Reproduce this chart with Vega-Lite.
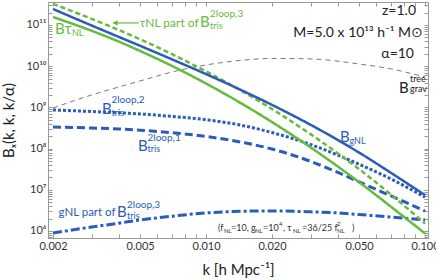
{
"$schema": "https://vega.github.io/schema/vega-lite/v6.json",
"width": 380, "height": 236,
"autosize": {"type": "none"},
"padding": {"left": 48, "top": 2, "right": 8, "bottom": 42},
"background": "white",
"config": {
  "view": {"stroke": "#999", "strokeWidth": 1},
  "font": "Lato",
  "axis": {"grid": false, "domainColor": "#999", "tickColor": "#999", "labelColor": "#333", "labelFont": "Lato", "titleFont": "Lato", "titleFontWeight": "normal", "titleColor": "#222", "labelOverlap": false, "labelFlush": false}
},
"resolve": {"axis": {"x": "independent", "y": "independent"}},
"layer": [
  {
    "data": {"values": [
      {"s":"grav","k":0.002,"B":9.66e8},{"s":"grav","k":0.003,"B":2.0e9},{"s":"grav","k":0.004,"B":3.13e9},{"s":"grav","k":0.005,"B":4.38e9},{"s":"grav","k":0.007,"B":7.23e9},{"s":"grav","k":0.01,"B":1.07e10},{"s":"grav","k":0.015,"B":1.41e10},{"s":"grav","k":0.02,"B":1.54e10},{"s":"grav","k":0.03,"B":1.50e10},{"s":"grav","k":0.05,"B":1.13e10},{"s":"grav","k":0.07,"B":8.55e9},{"s":"grav","k":0.1,"B":5.47e9},
      {"s":"tris1","k":0.002,"B":3.34e8},{"s":"tris1","k":0.003,"B":3.16e8},{"s":"tris1","k":0.004,"B":2.99e8},{"s":"tris1","k":0.005,"B":2.79e8},{"s":"tris1","k":0.007,"B":2.43e8},{"s":"tris1","k":0.01,"B":1.97e8},{"s":"tris1","k":0.015,"B":1.38e8},{"s":"tris1","k":0.02,"B":9.77e7},{"s":"tris1","k":0.03,"B":4.90e7},{"s":"tris1","k":0.04,"B":2.63e7},{"s":"tris1","k":0.05,"B":1.55e7},{"s":"tris1","k":0.07,"B":7.08e6},{"s":"tris1","k":0.1,"B":3.05e6},
      {"s":"tris2","k":0.002,"B":8.65e8},{"s":"tris2","k":0.003,"B":7.94e8},{"s":"tris2","k":0.004,"B":7.41e8},{"s":"tris2","k":0.005,"B":6.92e8},{"s":"tris2","k":0.007,"B":6.03e8},{"s":"tris2","k":0.01,"B":5.01e8},{"s":"tris2","k":0.015,"B":3.55e8},{"s":"tris2","k":0.02,"B":2.45e8},{"s":"tris2","k":0.03,"B":1.26e8},{"s":"tris2","k":0.04,"B":6.92e7},{"s":"tris2","k":0.05,"B":4.17e7},{"s":"tris2","k":0.07,"B":1.82e7},{"s":"tris2","k":0.1,"B":6.61e6},
      {"s":"gNL3","k":0.002,"B":8.93e5},{"s":"gNL3","k":0.003,"B":1.25e6},{"s":"gNL3","k":0.004,"B":1.55e6},{"s":"gNL3","k":0.005,"B":1.85e6},{"s":"gNL3","k":0.007,"B":2.29e6},{"s":"gNL3","k":0.01,"B":2.74e6},{"s":"gNL3","k":0.015,"B":3.02e6},{"s":"gNL3","k":0.02,"B":3.07e6},{"s":"gNL3","k":0.03,"B":2.92e6},{"s":"gNL3","k":0.04,"B":2.75e6},{"s":"gNL3","k":0.05,"B":2.51e6},{"s":"gNL3","k":0.07,"B":2.19e6},{"s":"gNL3","k":0.1,"B":1.85e6},
      {"s":"tauNL","k":0.002,"B":1.56e11},{"s":"tauNL","k":0.003,"B":7.24e10},{"s":"tauNL","k":0.004,"B":3.93e10},{"s":"tauNL","k":0.005,"B":2.34e10},{"s":"tauNL","k":0.007,"B":1.01e10},{"s":"tauNL","k":0.01,"B":3.79e9},{"s":"tauNL","k":0.015,"B":1.12e9},{"s":"tauNL","k":0.02,"B":4.40e8},{"s":"tauNL","k":0.03,"B":1.07e8},{"s":"tauNL","k":0.04,"B":3.66e7},{"s":"tauNL","k":0.05,"B":1.53e7},{"s":"tauNL","k":0.07,"B":3.85e6},{"s":"tauNL","k":0.1,"B":8.71e5},
      {"s":"tauNL3","k":0.002,"B":3.24e11},{"s":"tauNL3","k":0.003,"B":1.41e11},{"s":"tauNL3","k":0.004,"B":7.52e10},{"s":"tauNL3","k":0.005,"B":4.48e10},{"s":"tauNL3","k":0.007,"B":1.95e10},{"s":"tauNL3","k":0.01,"B":7.46e9},{"s":"tauNL3","k":0.015,"B":2.27e9},{"s":"tauNL3","k":0.02,"B":9.10e8},{"s":"tauNL3","k":0.03,"B":2.24e8},{"s":"tauNL3","k":0.04,"B":7.64e7},{"s":"tauNL3","k":0.05,"B":3.16e7},{"s":"tauNL3","k":0.07,"B":7.60e6},{"s":"tauNL3","k":0.1,"B":1.51e6},
      {"s":"gNL","k":0.002,"B":2.44e11},{"s":"gNL","k":0.003,"B":9.73e10},{"s":"gNL","k":0.004,"B":5.12e10},{"s":"gNL","k":0.005,"B":3.12e10},{"s":"gNL","k":0.007,"B":1.46e10},{"s":"gNL","k":0.01,"B":6.41e9},{"s":"gNL","k":0.015,"B":2.40e9},{"s":"gNL","k":0.02,"B":1.15e9},{"s":"gNL","k":0.03,"B":3.78e8},{"s":"gNL","k":0.04,"B":1.61e8},{"s":"gNL","k":0.05,"B":7.98e7},{"s":"gNL","k":0.07,"B":2.56e7},{"s":"gNL","k":0.1,"B":7.41e6}
    ]},
    "mark": {"type": "line", "interpolate": "monotone", "clip": true},
    "encoding": {
      "x": {"field": "k", "type": "quantitative",
        "scale": {"type": "log", "domain": [0.0018976, 0.10312], "nice": false},
        "axis": {"orient": "bottom", "values": [0.002,0.003,0.004,0.005,0.006,0.007,0.008,0.009,0.01,0.02,0.03,0.04,0.05,0.06,0.07,0.08,0.09,0.1],
          "labelExpr": "indexof([0.002,0.005,0.01,0.02,0.05,0.1], datum.value) >= 0 ? format(datum.value, '.3f') : ''",
          "tickSize": -4, "labelPadding": 6, "labelFontSize": 11, "title": "k  [h Mpc⁻¹]", "titleFontSize": 15, "titlePadding": 11}},
      "y": {"field": "B", "type": "quantitative",
        "scale": {"type": "log", "domain": [6.76e5, 3.61e11], "nice": false},
        "axis": {"orient": "left", "values": [7e5,8e5,9e5,1e6,2e6,3e6,4e6,5e6,6e6,7e6,8e6,9e6,1e7,2e7,3e7,4e7,5e7,6e7,7e7,8e7,9e7,1e8,2e8,3e8,4e8,5e8,6e8,7e8,8e8,9e8,1e9,2e9,3e9,4e9,5e9,6e9,7e9,8e9,9e9,1e10,2e10,3e10,4e10,5e10,6e10,7e10,8e10,9e10,1e11,2e11,3e11],
          "labelExpr": "datum.value == 1e6 ? '10⁶' : datum.value == 1e7 ? '10⁷' : datum.value == 1e8 ? '10⁸' : datum.value == 1e9 ? '10⁹' : datum.value == 1e10 ? '10¹⁰' : datum.value == 1e11 ? '10¹¹' : ''",
          "tickSize": -4, "labelPadding": 6, "labelFontSize": 11, "title": "Bₓ(k, k, k/α)", "titleFontSize": 15, "titlePadding": 9}},
      "color": {"field": "s", "type": "nominal", "legend": null,
        "scale": {"domain": ["grav","tris1","tris2","gNL3","tauNL","tauNL3","gNL"], "range": ["#555555","#2b5cb8","#2b5cb8","#2b5cb8","#66bb3d","#66bb3d","#2b5cb8"]}},
      "strokeDash": {"field": "s", "type": "nominal", "legend": null,
        "scale": {"domain": ["grav","tris1","tris2","gNL3","tauNL","tauNL3","gNL"], "range": [[5,4],[8,4],[3,2],[9,3,3,3],[1,0],[5,3],[1,0]]}},
      "strokeWidth": {"field": "s", "type": "nominal", "legend": null,
        "scale": {"type": "ordinal", "domain": ["grav","tris1","tris2","gNL3","tauNL","tauNL3","gNL"], "range": [0.8,3,3,3,2.5,2.5,2.5]}}
    }
  },
  {
    "data": {"values": [{"k1": 0.003758, "k2": 0.00492, "B": 1.12e11}]},
    "mark": {"type": "rule", "color": "#66bb3d", "strokeWidth": 1.2},
    "encoding": {
      "x": {"field": "k1", "type": "quantitative",
        "axis": {"orient": "top", "values": [0.002,0.003,0.004,0.005,0.006,0.007,0.008,0.009,0.01,0.02,0.03,0.04,0.05,0.06,0.07,0.08,0.09,0.1], "labels": false, "title": null, "tickSize": -4, "domain": false}},
      "x2": {"field": "k2"},
      "y": {"field": "B", "type": "quantitative",
        "axis": {"orient": "right", "values": [7e5,8e5,9e5,1e6,2e6,3e6,4e6,5e6,6e6,7e6,8e6,9e6,1e7,2e7,3e7,4e7,5e7,6e7,7e7,8e7,9e7,1e8,2e8,3e8,4e8,5e8,6e8,7e8,8e8,9e8,1e9,2e9,3e9,4e9,5e9,6e9,7e9,8e9,9e9,1e10,2e10,3e10,4e10,5e10,6e10,7e10,8e10,9e10,1e11,2e11,3e11], "labels": false, "title": null, "tickSize": -4, "domain": false}}
    }
  },
  {
    "data": {"values": [{"k": 0.00385, "B": 1.12e11}]},
    "mark": {"type": "point", "shape": "triangle-left", "filled": true, "color": "#66bb3d", "size": 30, "opacity": 1},
    "encoding": {"x": {"field": "k", "type": "quantitative", "axis": null}, "y": {"field": "B", "type": "quantitative", "axis": null}}
  },
  {
    "data": {"values": [{"t": "z=1.0", "k": 0.0909, "B": 1.75e11}, {"t": "M=5.0 x 10¹³ h⁻¹ M⊙", "k": 0.0979, "B": 5.12e10}, {"t": "α=10", "k": 0.089, "B": 1.58e10}]},
    "mark": {"type": "text", "align": "right", "baseline": "alphabetic", "font": "Lato", "fontSize": 14, "color": "#222"},
    "encoding": {"x": {"field": "k", "type": "quantitative", "axis": null}, "y": {"field": "B", "type": "quantitative", "axis": null}, "text": {"field": "t"}}
  },
  {
    "data": {"values": [{"t": "B", "k": 0.076, "B": 2.24e9}]},
    "mark": {"type": "text", "align": "left", "baseline": "alphabetic", "font": "Lato", "fontSize": 15, "color": "#222"},
    "encoding": {"x": {"field": "k", "type": "quantitative", "axis": null}, "y": {"field": "B", "type": "quantitative", "axis": null}, "text": {"field": "t"}}
  },
  {
    "data": {"values": [{"t": "tree", "k": 0.08535, "B": 4.14e9}, {"t": "grav", "k": 0.08535, "B": 2.37e9}]},
    "mark": {"type": "text", "align": "left", "baseline": "alphabetic", "font": "Lato", "fontSize": 9, "color": "#222"},
    "encoding": {"x": {"field": "k", "type": "quantitative", "axis": null}, "y": {"field": "B", "type": "quantitative", "axis": null}, "text": {"field": "t"}}
  },
  {
    "data": {"values": [{"t": "B", "k": 0.04088, "B": 1.45e8}, {"t": "B", "k": 0.003349, "B": 6.92e8}, {"t": "B", "k": 0.004888, "B": 8.75e7}, {"t": "B", "k": 0.00392, "B": 2.19e6}]},
    "mark": {"type": "text", "align": "left", "baseline": "alphabetic", "font": "Lato", "fontSize": 15, "color": "#2b5cb8"},
    "encoding": {"x": {"field": "k", "type": "quantitative", "axis": null}, "y": {"field": "B", "type": "quantitative", "axis": null}, "text": {"field": "t"}}
  },
  {
    "data": {"values": [{"t": "2loop,2", "k": 0.003698, "B": 1.28e9}, {"t": "2loop,1", "k": 0.005402, "B": 1.53e8}, {"t": "2loop,3", "k": 0.004354, "B": 3.61e6}]},
    "mark": {"type": "text", "align": "left", "baseline": "alphabetic", "font": "Lato", "fontSize": 10, "color": "#2b5cb8"},
    "encoding": {"x": {"field": "k", "type": "quantitative", "axis": null}, "y": {"field": "B", "type": "quantitative", "axis": null}, "text": {"field": "t"}}
  },
  {
    "data": {"values": [{"t": "tris", "k": 0.003698, "B": 6.18e8}, {"t": "tris", "k": 0.005402, "B": 8.26e7}, {"t": "tris", "k": 0.004354, "B": 1.95e6}, {"t": "gNL", "k": 0.04518, "B": 1.29e8}]},
    "mark": {"type": "text", "align": "left", "baseline": "alphabetic", "font": "Lato", "fontSize": 9, "color": "#2b5cb8"},
    "encoding": {"x": {"field": "k", "type": "quantitative", "axis": null}, "y": {"field": "B", "type": "quantitative", "axis": null}, "text": {"field": "t"}}
  },
  {
    "data": {"values": [{"t": "gNL part of", "k": 0.00386, "B": 2.31e6}]},
    "mark": {"type": "text", "align": "right", "baseline": "alphabetic", "font": "Lato", "fontSize": 11.5, "color": "#2b5cb8"},
    "encoding": {"x": {"field": "k", "type": "quantitative", "axis": null}, "y": {"field": "B", "type": "quantitative", "axis": null}, "text": {"field": "t"}}
  },
  {
    "data": {"values": [{"t": "Bτ", "k": 0.002042, "B": 6.05e10}, {"t": "B", "k": 0.009383, "B": 8.94e10}]},
    "mark": {"type": "text", "align": "left", "baseline": "alphabetic", "font": "Lato", "fontSize": 15, "color": "#66bb3d"},
    "encoding": {"x": {"field": "k", "type": "quantitative", "axis": null}, "y": {"field": "B", "type": "quantitative", "axis": null}, "text": {"field": "t"}}
  },
  {
    "data": {"values": [{"t": "τNL part of", "k": 0.00925, "B": 8.94e10}]},
    "mark": {"type": "text", "align": "right", "baseline": "alphabetic", "font": "Lato", "fontSize": 12, "color": "#66bb3d"},
    "encoding": {"x": {"field": "k", "type": "quantitative", "axis": null}, "y": {"field": "B", "type": "quantitative", "axis": null}, "text": {"field": "t"}}
  },
  {
    "data": {"values": [{"t": "2loop,3", "k": 0.010422, "B": 1.56e11}]},
    "mark": {"type": "text", "align": "left", "baseline": "alphabetic", "font": "Lato", "fontSize": 10, "color": "#66bb3d"},
    "encoding": {"x": {"field": "k", "type": "quantitative", "axis": null}, "y": {"field": "B", "type": "quantitative", "axis": null}, "text": {"field": "t"}}
  },
  {
    "data": {"values": [{"t": "NL", "k": 0.002442, "B": 5.41e10}, {"t": "tris", "k": 0.010422, "B": 8.0e10}]},
    "mark": {"type": "text", "align": "left", "baseline": "alphabetic", "font": "Lato", "fontSize": 9, "color": "#66bb3d"},
    "encoding": {"x": {"field": "k", "type": "quantitative", "axis": null}, "y": {"field": "B", "type": "quantitative", "axis": null}, "text": {"field": "t"}}
  },
  {
    "data": {"values": [{"t": "(f", "k": 0.011336, "B": 1.0e6}, {"t": "=10, g", "k": 0.0130, "B": 1.0e6}, {"t": "=10", "k": 0.01819, "B": 1.0e6}, {"t": ", τ", "k": 0.02245, "B": 1.0e6}, {"t": "=36/25 f", "k": 0.02742, "B": 1.0e6}, {"t": ")", "k": 0.04638, "B": 1.0e6}]},
    "mark": {"type": "text", "align": "left", "baseline": "alphabetic", "font": "Lato", "fontSize": 9, "color": "#333"},
    "encoding": {"x": {"field": "k", "type": "quantitative", "axis": null}, "y": {"field": "B", "type": "quantitative", "axis": null}, "text": {"field": "t"}}
  },
  {
    "data": {"values": [{"t": "NL", "k": 0.012074, "B": 8.93e5}, {"t": "NL", "k": 0.01673, "B": 8.93e5}, {"t": "NL", "k": 0.02494, "B": 8.93e5}, {"t": "NL", "k": 0.03962, "B": 8.93e5}, {"t": "4", "k": 0.02152, "B": 1.32e6}, {"t": "2", "k": 0.03962, "B": 1.32e6}]},
    "mark": {"type": "text", "align": "left", "baseline": "alphabetic", "font": "Lato", "fontSize": 6, "color": "#333"},
    "encoding": {"x": {"field": "k", "type": "quantitative", "axis": null}, "y": {"field": "B", "type": "quantitative", "axis": null}, "text": {"field": "t"}}
  }
]
}
